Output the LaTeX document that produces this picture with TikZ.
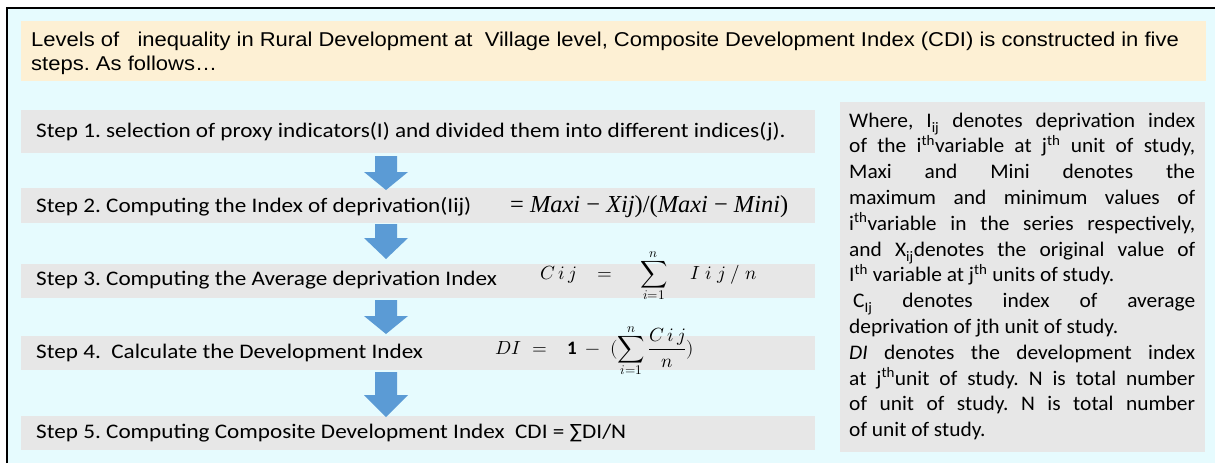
\documentclass[tikz,border=0pt]{standalone}
\usepackage{fontspec}
\usepackage{unicode-math}
\setmainfont{Carlito}
\newfontfamily\hdrfont[FakeStretch=1.1]{Liberation Sans}
\newfontfamily\stepfont[FakeStretch=1.12]{Carlito}
\newfontfamily\notefont[FakeStretch=1.035]{Carlito}
\newfontfamily\serifmath{Liberation Serif}
\definecolor{bgcyan}{RGB}{230,251,254}
\definecolor{hdrbeige}{RGB}{253,240,212}
\definecolor{stepgrey}{RGB}{231,231,231}
\definecolor{arrowblue}{RGB}{91,155,213}
\newcommand\bluedownarrow[4]{\fill[arrowblue] (#1-11,#2) -- (#1+11,#2) -- (#1+11,#3) -- (#1+22,#3) -- (#1,#4) -- (#1-22,#3) -- (#1-11,#3) -- cycle;}
\frenchspacing
\begin{document}
\begin{tikzpicture}[x=1pt,y=-1pt,
  panel/.style={fill=stepgrey, draw=none, inner sep=0, anchor=north west},
  steptext/.style={anchor=base west, inner sep=0, font=\stepfont\fontsize{20.7}{24}\selectfont},
  mathtext/.style={anchor=base west, inner sep=0}]
\useasboundingbox (0,0) rectangle (1215,463);
\fill[white] (0,0) rectangle (1215,463);
\fill[bgcyan] (7,8) rectangle (1215,463);
\draw[line width=2.5pt] (7,463) -- (7,8) -- (1215,8);

% header
\node[panel, fill=hdrbeige, minimum width=1185pt, minimum height=60pt] (hdr) at (21,21) {};
\node[anchor=base west, inner sep=0] (hdrtext) at (31,46) {\parbox[t]{1170pt}{\hdrfont\fontsize{20}{24}\selectfont
Levels of\ \ \ inequality in Rural Development at\ \ Village level, Composite Development Index (CDI) is constructed in five\\
steps. As follows\ldots}};

% step boxes
\node[panel, minimum width=794pt, minimum height=43pt] (s1) at (21,110) {};
\node[panel, minimum width=794pt, minimum height=35pt] (s2) at (21,188) {};
\node[panel, minimum width=794pt, minimum height=34pt] (s3) at (21,264) {};
\node[panel, minimum width=794pt, minimum height=34pt] (s4) at (21,336) {};
\node[panel, minimum width=794pt, minimum height=34pt] (s5) at (21,416) {};

\node[steptext] (t1) at (36,137) {Step 1. selection of proxy indicators(I) and divided them into different indices(j).};
\node[steptext] (t2) at (36,212) {Step 2. Computing the Index of deprivation(Iij)};
\node[mathtext] (m2) at (510,212) {\resizebox{278pt}{!}{\serifmath\fontsize{21}{24}\selectfont = \textit{Maxi} − \textit{Xij})/(\textit{Maxi} − \textit{Mini})}};
\node[steptext] (t3) at (36,285) {Step 3. Computing the Average deprivation Index};
\node[mathtext] (m3) at (540,279) {\fontsize{19}{22}\selectfont
  \makebox[57pt][l]{$C\,i\,j$}\makebox[43pt][l]{$=$}\makebox[50pt][l]{$\displaystyle\sum_{i=1}^{n}$}$I\;i\;j\;/\;n$};
\node[steptext] (t4) at (36,358) {Step 4.\ \ Calculate the Development Index};
\node[mathtext] (m4) at (495,354) {\fontsize{19}{22}\selectfont
  \makebox[37pt][l]{$DI$}\makebox[35pt][l]{$=$}\makebox[18pt][l]{$\mathbf{1}$}\makebox[25pt][l]{$-$}$\displaystyle(\sum_{i=1}^{n}\frac{C\,i\,j}{n})$};
\node[steptext] (t5) at (36,438) {Step 5. Computing Composite Development Index\ \ CDI = ∑DI/N};

% arrows
\bluedownarrow{386}{156}{172}{190}
\bluedownarrow{386}{224}{238}{259}
\bluedownarrow{386}{300}{316}{334}
\bluedownarrow{386}{372}{395}{417}

% note box
\node[panel, minimum width=365pt, minimum height=350pt] (note) at (840,102) {};
\node[anchor=base west, inner sep=0] (notetext) at (849,127) {\parbox[t]{346pt}{\notefont\fontsize{20.7}{25.8}\selectfont
Where, I\textsubscript{ij} denotes deprivation index\linebreak
of the i\textsuperscript{th}variable at j\textsuperscript{th} unit of study,\linebreak
Maxi and Mini denotes the\linebreak
maximum and minimum values of\linebreak
i\textsuperscript{th}variable in the series respectively,\linebreak
and X\textsubscript{ij}denotes the original value of\linebreak
I\textsuperscript{th} variable at j\textsuperscript{th} units of study.\\
\hspace*{4pt}C\textsubscript{Ij} denotes index of average\linebreak
deprivation of jth unit of study.\\
\textit{DI} denotes the development index\linebreak
at j\textsuperscript{th}unit of study. N is total number\linebreak
of unit of study. N is total number\linebreak
of unit of study.}};
\end{tikzpicture}
\end{document}
